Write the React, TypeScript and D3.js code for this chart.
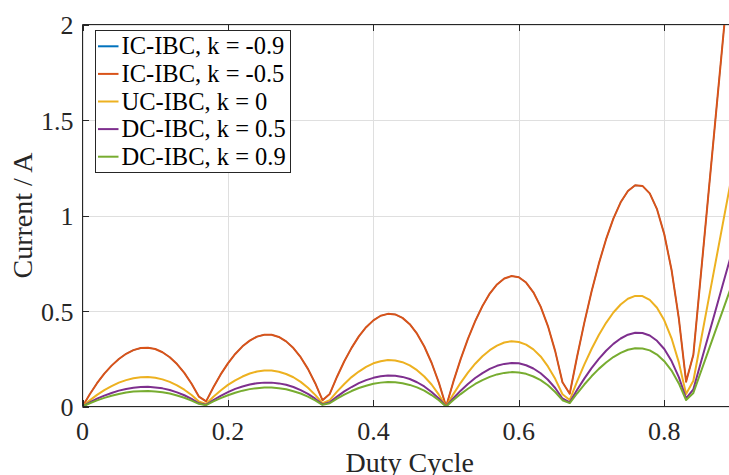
import React, { useRef, useEffect } from 'react'
import * as d3 from 'd3'

// duty cycle samples (step 0.01)
const dutyCycle = [
  0, 0.01, 0.02, 0.03, 0.04, 0.05, 0.06, 0.07, 0.08, 0.09,
  0.1, 0.11, 0.12, 0.13, 0.14, 0.15, 0.16, 0.17, 0.18, 0.19,
  0.2, 0.21, 0.22, 0.23, 0.24, 0.25, 0.26, 0.27, 0.28, 0.29,
  0.3, 0.31, 0.32, 0.33, 0.34, 0.35, 0.36, 0.37, 0.38, 0.39,
  0.4, 0.41, 0.42, 0.43, 0.44, 0.45, 0.46, 0.47, 0.48, 0.49,
  0.5, 0.51, 0.52, 0.53, 0.54, 0.55, 0.56, 0.57, 0.58, 0.59,
  0.6, 0.61, 0.62, 0.63, 0.64, 0.65, 0.66, 0.67, 0.68, 0.69,
  0.7, 0.71, 0.72, 0.73, 0.74, 0.75, 0.76, 0.77, 0.78, 0.79,
  0.8, 0.81, 0.82, 0.83, 0.84, 0.85, 0.86, 0.87, 0.88, 0.89,
  0.9,
]

const icIbcK05 = [
  0, 0.064, 0.122, 0.172, 0.214, 0.249, 0.276, 0.295, 0.306, 0.308,
  0.301, 0.284, 0.258, 0.222, 0.176, 0.119, 0.052, 0.027, 0.101, 0.168,
  0.226, 0.275, 0.315, 0.345, 0.366, 0.376, 0.376, 0.364, 0.341, 0.306,
  0.258, 0.197, 0.122, 0.033, 0.066, 0.156, 0.237, 0.307, 0.367, 0.415,
  0.451, 0.475, 0.485, 0.482, 0.464, 0.431, 0.381, 0.314, 0.229, 0.125,
  0, 0.13, 0.248, 0.354, 0.447, 0.526, 0.591, 0.639, 0.67, 0.683,
  0.677, 0.649, 0.598, 0.523, 0.421, 0.29, 0.127, 0.067, 0.259, 0.438,
  0.602, 0.748, 0.876, 0.984, 1.069, 1.128, 1.158, 1.155, 1.116, 1.033,
  0.902, 0.715, 0.461, 0.13, 0.271, 0.677, 1.083, 1.489, 1.895, 2.301,
  2.707,
]

// the k = -0.9 curve sits right under the k = -0.5 one in the picture
const icIbcK09 = icIbcK05.slice()

const ucIbcK0 = [
  0, 0.032, 0.061, 0.086, 0.107, 0.125, 0.138, 0.148, 0.153, 0.154,
  0.15, 0.142, 0.129, 0.111, 0.088, 0.06, 0.026, 0.013, 0.051, 0.084,
  0.113, 0.137, 0.157, 0.173, 0.183, 0.188, 0.188, 0.182, 0.17, 0.153,
  0.129, 0.098, 0.061, 0.017, 0.033, 0.078, 0.118, 0.154, 0.183, 0.207,
  0.226, 0.237, 0.243, 0.241, 0.232, 0.215, 0.19, 0.157, 0.115, 0.062,
  0, 0.065, 0.124, 0.177, 0.224, 0.263, 0.295, 0.319, 0.335, 0.342,
  0.338, 0.324, 0.299, 0.262, 0.21, 0.145, 0.064, 0.034, 0.13, 0.219,
  0.301, 0.374, 0.438, 0.492, 0.534, 0.564, 0.579, 0.578, 0.558, 0.517,
  0.451, 0.357, 0.231, 0.065, 0.135, 0.338, 0.541, 0.744, 0.947, 1.15,
  1.353,
]

const dcIbcK05 = [
  0, 0.021, 0.041, 0.057, 0.071, 0.083, 0.092, 0.098, 0.102, 0.103,
  0.1, 0.095, 0.086, 0.074, 0.059, 0.04, 0.017, 0.009, 0.034, 0.056,
  0.075, 0.092, 0.105, 0.115, 0.122, 0.125, 0.125, 0.121, 0.114, 0.102,
  0.086, 0.066, 0.041, 0.011, 0.022, 0.052, 0.079, 0.102, 0.122, 0.138,
  0.15, 0.158, 0.162, 0.161, 0.155, 0.144, 0.127, 0.105, 0.076, 0.042,
  0, 0.043, 0.083, 0.118, 0.149, 0.175, 0.197, 0.213, 0.223, 0.228,
  0.226, 0.216, 0.199, 0.174, 0.14, 0.097, 0.042, 0.022, 0.086, 0.146,
  0.201, 0.249, 0.292, 0.328, 0.356, 0.376, 0.386, 0.385, 0.372, 0.344,
  0.301, 0.238, 0.154, 0.043, 0.09, 0.226, 0.361, 0.496, 0.632, 0.767,
  0.902,
]

const dcIbcK09 = [
  0, 0.017, 0.032, 0.045, 0.056, 0.065, 0.073, 0.078, 0.08, 0.081,
  0.079, 0.075, 0.068, 0.058, 0.046, 0.031, 0.014, 0.007, 0.027, 0.044,
  0.059, 0.072, 0.083, 0.091, 0.096, 0.099, 0.099, 0.096, 0.09, 0.08,
  0.068, 0.052, 0.032, 0.009, 0.017, 0.041, 0.062, 0.081, 0.097, 0.109,
  0.119, 0.125, 0.128, 0.127, 0.122, 0.113, 0.1, 0.083, 0.06, 0.033,
  0, 0.034, 0.065, 0.093, 0.118, 0.138, 0.155, 0.168, 0.176, 0.18,
  0.178, 0.171, 0.157, 0.138, 0.111, 0.076, 0.033, 0.018, 0.068, 0.115,
  0.158, 0.197, 0.23, 0.259, 0.281, 0.297, 0.305, 0.304, 0.294, 0.272,
  0.237, 0.188, 0.121, 0.034, 0.071, 0.178, 0.285, 0.392, 0.498, 0.605,
  0.712,
]

const seriesNames = [
  'IC-IBC, k = -0.9',
  'IC-IBC, k = -0.5',
  'UC-IBC, k = 0',
  'DC-IBC, k = 0.5',
  'DC-IBC, k = 0.9',
]
const seriesValues = [icIbcK09, icIbcK05, ucIbcK0, dcIbcK05, dcIbcK09]
const seriesColors = ['#0072bd', '#d95319', '#edb120', '#7e2f8e', '#77ac30']

const xTicks = [0, 0.2, 0.4, 0.6, 0.8]
const yTicks = [0, 0.5, 1, 1.5, 2]

const FONT = '"Liberation Serif", "Times New Roman", serif'
const AXIS = '#262626'

const App = () => {
  const svgRef = useRef<SVGSVGElement | null>(null)

  useEffect(() => {
    d3.select(svgRef.current).selectAll('*').remove()

    const W = 729,
      H = 475
    const left = 82.5,
      top = 24.5,
      bottom = 406.5,
      right = 737

    const svg = d3.select(svgRef.current).attr('width', W).attr('height', H)

    const x = d3.scaleLinear().domain([0, 0.9]).range([left, right])
    const y = d3.scaleLinear().domain([0, 2]).range([bottom, top])

    svg.append('rect').attr('width', W).attr('height', H).attr('fill', '#fff')

    // grid
    const grid = svg.append('g').attr('stroke', '#dfdfdf').attr('stroke-width', 1)
    grid.selectAll('.gx')
      .data(xTicks)
      .join('line')
      .attr('x1', (d) => Math.round(x(d)) + 0.5)
      .attr('x2', (d) => Math.round(x(d)) + 0.5)
      .attr('y1', top)
      .attr('y2', bottom)
    grid.selectAll('.gy')
      .data(yTicks)
      .join('line')
      .attr('x1', left)
      .attr('x2', right)
      .attr('y1', (d) => Math.round(y(d)) + 0.5)
      .attr('y2', (d) => Math.round(y(d)) + 0.5)

    svg.append('clipPath')
      .attr('id', 'plot-clip')
      .append('rect')
      .attr('x', left)
      .attr('y', top)
      .attr('width', right - left)
      .attr('height', bottom - top)

    const line = d3
      .line<number>()
      .x((d, i) => x(dutyCycle[i]))
      .y((d) => y(d))

    svg.append('g')
      .attr('clip-path', 'url(#plot-clip)')
      .selectAll('path')
      .data(seriesValues)
      .join('path')
      .attr('d', (d) => line(d))
      .attr('fill', 'none')
      .attr('stroke', (d, i) => seriesColors[i])
      // blue is fully covered by the orange line drawn over it
      .attr('stroke-width', (d, i) => (i === 0 ? 1.2 : 2))
      .attr('stroke-linejoin', 'round')

    // axes box (right edge falls outside the picture)
    const box = svg.append('g').attr('stroke', AXIS).attr('stroke-width', 1).attr('fill', 'none')
    box.append('line').attr('x1', left).attr('x2', right).attr('y1', top).attr('y2', top)
    box.append('line').attr('x1', left).attr('x2', right).attr('y1', bottom).attr('y2', bottom)
    box.append('line').attr('x1', left).attr('x2', left).attr('y1', top).attr('y2', bottom)

    // inward ticks
    box.selectAll('.tb')
      .data(xTicks)
      .join('line')
      .attr('x1', (d) => Math.round(x(d)) + 0.5)
      .attr('x2', (d) => Math.round(x(d)) + 0.5)
      .attr('y1', bottom)
      .attr('y2', bottom - 6.5)
    box.selectAll('.tt')
      .data(xTicks)
      .join('line')
      .attr('x1', (d) => Math.round(x(d)) + 0.5)
      .attr('x2', (d) => Math.round(x(d)) + 0.5)
      .attr('y1', top)
      .attr('y2', top + 6.5)
    box.selectAll('.tl')
      .data(yTicks)
      .join('line')
      .attr('x1', left)
      .attr('x2', left + 6.5)
      .attr('y1', (d) => Math.round(y(d)) + 0.5)
      .attr('y2', (d) => Math.round(y(d)) + 0.5)

    const fmt = (d: number) => String(d)

    svg.append('g')
      .selectAll('text')
      .data(xTicks)
      .join('text')
      .attr('x', (d) => x(d))
      .attr('y', 440)
      .attr('text-anchor', 'middle')
      .style('font-family', FONT)
      .style('font-size', '26px')
      .attr('fill', AXIS)
      .text(fmt)

    svg.append('g')
      .selectAll('text')
      .data(yTicks)
      .join('text')
      .attr('x', 73.5)
      .attr('y', (d) => y(d) + 9.5)
      .attr('text-anchor', 'end')
      .style('font-family', FONT)
      .style('font-size', '26px')
      .attr('fill', AXIS)
      .text(fmt)

    svg.append('text')
      .attr('x', (left + right) / 2)
      .attr('y', 471.5)
      .attr('text-anchor', 'middle')
      .style('font-family', FONT)
      .style('font-size', '28px')
      .attr('fill', AXIS)
      .text('Duty Cycle')

    svg.append('text')
      .attr('transform', `translate(32,${(top + bottom) / 2}) rotate(-90)`)
      .attr('text-anchor', 'middle')
      .style('font-family', FONT)
      .style('font-size', '28px')
      .attr('fill', AXIS)
      .text('Current / A')

    // legend
    const legend = svg.append('g')
    legend.append('rect')
      .attr('x', 95.5)
      .attr('y', 30.5)
      .attr('width', 195)
      .attr('height', 142)
      .attr('fill', '#fff')
      .attr('stroke', AXIS)
      .attr('stroke-width', 1)

    const rows = legend.selectAll('g')
      .data(seriesNames)
      .join('g')
      .attr('transform', (d, i) => `translate(0,${46.3 + i * 27.6})`)
    rows.append('line')
      .attr('x1', 98)
      .attr('x2', 118.5)
      .attr('stroke', (d, i) => seriesColors[i])
      .attr('stroke-width', 2)
    rows.append('text')
      .attr('x', 121.5)
      .attr('y', 8)
      .style('font-family', FONT)
      .style('font-size', '24.5px')
      .attr('fill', '#000')
      .text((d) => d)
  }, [])

  return (
    <svg
      ref={svgRef}
      style={{ position: 'absolute', left: 0, top: 0, display: 'block' }}
    ></svg>
  )
}

export default App
